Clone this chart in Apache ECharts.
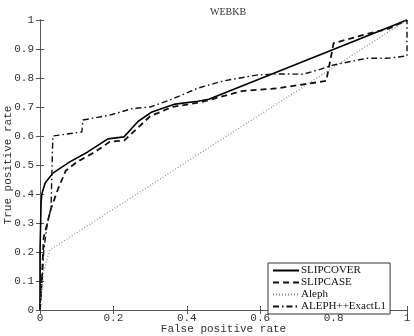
<!DOCTYPE html>
<html><head><meta charset="utf-8">
<script src="https://cdn.jsdelivr.net/npm/echarts@6/dist/echarts.min.js"></script>
<style>html,body{margin:0;padding:0;background:#fff}#c{width:414px;height:336px}</style>
</head><body><div id="c"></div>
<script>
const title = 'WEBKB';
const xName = 'False positive rate';
const yName = 'True positive rate';
const seriesNames = ['SLIPCOVER', 'SLIPCASE', 'Aleph', 'ALEPH++ExactL1'];
const slipcover = [[0,0],[0,0.2],[0.003,0.37],[0.005,0.40],[0.014,0.438],[0.035,0.472],[0.08,0.51],[0.13,0.545],[0.185,0.59],[0.229,0.597],[0.267,0.65],[0.305,0.683],[0.368,0.71],[0.43,0.72],[0.46,0.727],[1,1]];
const slipcase = [[0,0],[0.005,0.1],[0.01,0.25],[0.02,0.3],[0.03,0.35],[0.05,0.42],[0.07,0.48],[0.1,0.51],[0.15,0.545],[0.19,0.58],[0.23,0.585],[0.3,0.668],[0.36,0.7],[0.44,0.717],[0.55,0.755],[0.65,0.765],[0.76,0.786],[0.78,0.79],[0.8,0.92],[0.9,0.955],[0.95,0.97],[1,1]];
const aleph = [[0,0],[0.005,0.08],[0.01,0.13],[0.02,0.18],[0.027,0.207],[1,1]];
const alephpp = [[0,0],[0.01,0.2],[0.02,0.3],[0.03,0.35],[0.035,0.6],[0.04,0.603],[0.114,0.614],[0.117,0.655],[0.19,0.672],[0.253,0.695],[0.3,0.70],[0.36,0.727],[0.43,0.765],[0.5,0.79],[0.59,0.81],[0.65,0.814],[0.717,0.813],[0.763,0.83],[0.8,0.845],[0.89,0.868],[0.945,0.868],[1,0.876],[1,1]];

const mono = 'Liberation Mono';
const axisColor = '#555';
function axisBase(extra, margin){
  return Object.assign({
    type:'value', min:0, max:1,
    nameMoveOverlap:false,
    axisLine:{show:true,lineStyle:{color:axisColor,width:1}},
    axisTick:{show:true,inside:true,length:4,lineStyle:{color:axisColor}},
    splitLine:{show:false},
    axisLabel:{color:'#333',fontFamily:mono,fontSize:11,margin:margin,
      formatter:function(v){return String(+v.toFixed(1));}}
  }, extra);
}
const chart = echarts.init(document.getElementById('c'));
chart.setOption({
  animation:false,
  title:{text:title,left:223,top:2,textAlign:'center',
    textStyle:{fontFamily:'Liberation Serif',fontSize:10,fontWeight:'normal',color:'#333'}},
  grid:{left:40,right:7,top:20,bottom:26,containLabel:false,outerBoundsMode:'none'},
  legend:{
    orient:'vertical', left:268, top:263,
    data:seriesNames,
    itemWidth:26, itemHeight:8, itemGap:1,
    itemStyle:{opacity:0},
    backgroundColor:'#fff', borderColor:'#333', borderWidth:1, padding:[2,4,2,4],
    textStyle:{fontFamily:'Liberation Serif',fontSize:11,color:'#111',padding:[0,0,0,-3]}
  },
  xAxis:[
    axisBase({position:'bottom',interval:0.2,name:xName,nameLocation:'middle',nameGap:14,
      nameTextStyle:{fontFamily:mono,fontSize:11,color:'#333',verticalAlign:'top'}}, 3),
    axisBase({position:'top',interval:0.2,axisLabel:{show:false}}, 3)
  ],
  yAxis:[
    axisBase({position:'left',interval:0.1,name:yName,nameLocation:'middle',nameGap:26,
      nameTextStyle:{fontFamily:mono,fontSize:11,color:'#333',verticalAlign:'bottom'}}, 6),
    axisBase({position:'right',interval:0.1,axisLabel:{show:false}}, 6)
  ],
  series:[
    {name:seriesNames[0],type:'line',data:slipcover,symbol:'none',lineStyle:{color:'#000',width:1.6,type:'solid'},itemStyle:{color:'#000'}},
    {name:seriesNames[1],type:'line',data:slipcase,symbol:'none',lineStyle:{color:'#111',width:1.8,type:[6,4]},itemStyle:{color:'#111'}},
    {name:seriesNames[2],type:'line',data:aleph,symbol:'none',lineStyle:{color:'#888',width:1.2,type:[1,2]},itemStyle:{color:'#888'}},
    {name:seriesNames[3],type:'line',data:alephpp,symbol:'none',lineStyle:{color:'#111',width:1.4,type:[6,3,1.5,3]},itemStyle:{color:'#111'}}
  ]
});
</script></body></html>
